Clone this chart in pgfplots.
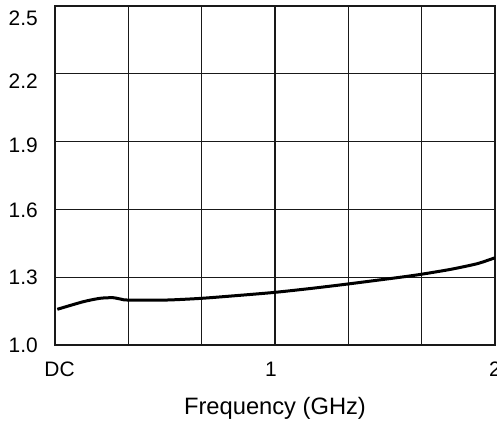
\documentclass[border=0pt]{standalone}
\usepackage{fontspec}
\setmainfont{Liberation Sans}
\usepackage{pgfplots}
\pgfplotsset{compat=1.18}
\begin{document}
\begin{tikzpicture}
\begin{axis}[
  at={(0,0)}, anchor=south west,
  scale only axis,
  width=440bp, height=339bp,
  xmin=0, xmax=2, ymin=1.0, ymax=2.5,
  xtick={0,0.33333,0.66667,1,1.33333,1.66667,2},
  ytick={1.0,1.3,1.6,1.9,2.2,2.5},
  xticklabels={}, yticklabels={},
  grid=major,
  major grid style={line width=1.4bp, draw=black!90},
  axis line style={line width=1.4bp, draw=black!90},
  major tick length=0pt,
  % labels sit slightly off the grid lines in the original
  extra x ticks={0.0205,0.982,2.0},
  extra x tick labels={DC,1,2},
  extra x tick style={grid=none, major tick length=0pt},
  extra y ticks={1.0,1.3,1.5956,1.882,2.169,2.447},
  extra y tick labels={1.0,1.3,1.6,1.9,2.2,2.5},
  extra y tick style={grid=none, major tick length=0pt},
  xticklabel style={font=\fontsize{21}{24}\selectfont, inner sep=0pt, anchor=base, yshift=-31bp},
  yticklabel style={font=\fontsize{21}{24}\selectfont, inner sep=0pt, anchor=east, xshift=-17bp},
  xlabel={Frequency (GHz)},
  xlabel style={font=\fontsize{23.8}{26}\selectfont, at={(axis description cs:0.5,0)}, anchor=center, yshift=-63bp},
]
\addplot[black, line width=3bp, smooth, tension=0.4] coordinates {
  (0.0105,1.158) (0.1286,1.1916) (0.2045,1.2066) (0.2636,1.2093)
  (0.303,1.2022) (0.330,1.199) (0.508,1.199) (0.667,1.2066)
  (0.83,1.219) (1.0,1.233) (1.17,1.251) (1.3318,1.270)
  (1.568,1.2996) (1.664,1.3128) (1.80,1.335) (1.92,1.360) (2.0,1.386)
};
\end{axis}
\pgfresetboundingbox
\path[use as bounding box] (-55bp,-79bp) rectangle (442bp,345bp);
\end{tikzpicture}
\end{document}
